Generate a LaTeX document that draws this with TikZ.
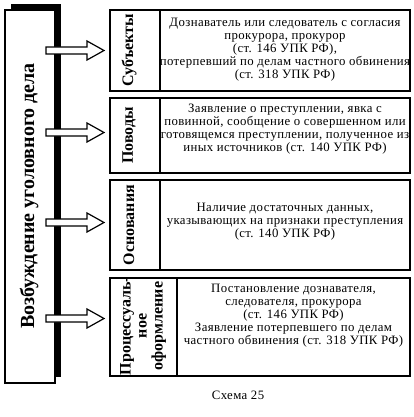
\documentclass[tikz,border=0pt]{standalone}
\usepackage{fontspec}
\setmainfont{Liberation Serif}
\newfontfamily\bodyfont[LetterSpace=3]{Liberation Serif}
\begin{document}
\begin{tikzpicture}[x=1pt,y=-1pt,
  box/.style={draw,line width=2.2pt},
  body/.style={align=center,font=\bodyfont\fontsize{12.8}{13}\selectfont,inner sep=0pt},
  lab/.style={align=center,font=\bfseries\fontsize{16}{16}\selectfont,rotate=90,inner sep=0pt},
  arr/.style={draw,fill=white,line width=1.2pt,line join=miter}]
\useasboundingbox (0,0) rectangle (414,417);
% main box with shadow
\fill[black] (11,4) rectangle (61,377);
\draw[fill=white,line width=1.6pt] (5,10) rectangle (55,383);
\node[rotate=90,font=\bfseries\fontsize{20}{22}\selectfont,inner sep=0pt] (main) at (29,196) {Возбуждение уголовного дела};
% boxes
\draw[box] (110,10) rectangle (410,91);
\draw[box] (160,10) -- (160,91);
\draw[box] (110,98) rectangle (410,173);
\draw[box] (160,98) -- (160,173);
\draw[box] (110,180) rectangle (410,270);
\draw[box] (160,180) -- (160,270);
\draw[box] (110,278) rectangle (410,376);
\draw[box] (177,278) -- (177,376);
% labels
\node[lab] (l1) at (129,50) {Субъекты};
\node[lab] (l2) at (129,135.5) {Поводы};
\node[lab] (l3) at (129,225) {Основания};
\node[lab] (l4) at (143,326) {Процессуаль-\\ное\\оформление};
% texts
\node[body] (t1) at (285,49.5) {Дознаватель или следователь с согласия\\прокурора, прокурор\\(ст. 146 УПК РФ),\\потерпевший по делам частного обвинения\\(ст. 318 УПК РФ)};
\node[body] (t2) at (285,129.5) {Заявление о преступлении, явка с\\повинной, сообщение о совершенном или\\готовящемся преступлении, полученное из\\иных источников (ст. 140 УПК РФ)};
\node[body] (t3) at (285,221.5) {Наличие достаточных данных,\\указывающих на признаки преступления\\(ст. 140 УПК РФ)};
\node[body] (t4) at (293.5,316) {Постановление дознавателя,\\следователя, прокурора\\(ст. 146 УПК РФ)\\Заявление потерпевшего по делам\\частного обвинения (ст. 318 УПК РФ)};
% arrows
\foreach \yy in {50.5,132.5,222.5,318.5}{
  \draw[arr] (46,\yy-3.5) -- (87,\yy-3.5) -- (87,\yy-9.5) -- (104,\yy) -- (87,\yy+9.5) -- (87,\yy+3.5) -- (46,\yy+3.5) -- cycle;
}
\node[font=\bodyfont\fontsize{12.8}{13}\selectfont,inner sep=0pt] (cap) at (238,395) {Схема 25};
\end{tikzpicture}
\end{document}
